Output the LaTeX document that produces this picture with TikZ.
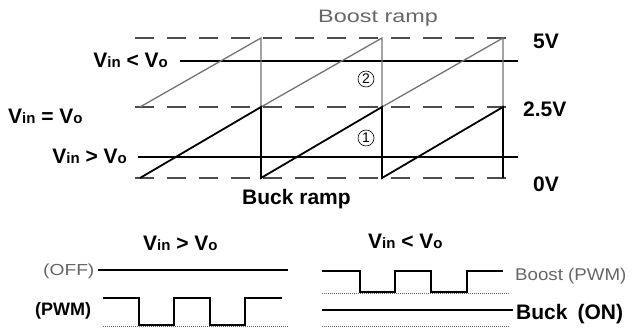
\documentclass[tikz,border=0pt]{standalone}
\usepackage{fontspec}
\setmainfont{Liberation Sans}
\newcommand\VVsub[1]{V{\fontsize{15}{15}\selectfont #1}}
\begin{document}
\begin{tikzpicture}[x=1pt,y=-1pt,
  lbl/.style={inner sep=0pt, font=\fontsize{21}{21}\selectfont\bfseries},
  glbl/.style={inner sep=0pt, text=black!60, font=\fontsize{16}{16}\selectfont},
  dashline/.style={black!70, line width=1.1pt, dash pattern=on 19pt off 13pt},
  thickline/.style={line width=1.8pt},
  grayramp/.style={black!55, line width=1.3pt},
  dotline/.style={black!60, line width=0.8pt, dash pattern=on 1.2pt off 0.8pt},
  numcirc/.style={circle, draw, line width=0.6pt, inner sep=0pt, minimum size=16pt, font=\fontsize{14}{14}\selectfont}]
\useasboundingbox (0,0) rectangle (632,329);

% reference levels
\draw[dashline] (135,38) -- (518,38);
\draw[dashline] (135,107) -- (518,107);
\draw[dashline] (135,178) -- (518,178);
\draw[thickline] (180,61) -- (518,61);
\draw[thickline] (138,157) -- (518,157);

% boost ramp (gray)
\draw[grayramp] (140,107) -- (261,38) -- (261,107) -- (382,38) -- (382,107) -- (503,38) -- (503,107);
% buck ramp (black)
\draw[thickline] (140,178) -- (261,107) -- (261,178) -- (382,107) -- (382,178) -- (503,107) -- (503,178);

\node[numcirc] (c2) at (366,79) {2};
\node[numcirc] (c1) at (366,138) {1};

% labels top
\node[glbl, anchor=base west] (boostramp) at (318,23) {\scalebox{1.3}[1]{\fontsize{18}{18}\selectfont Boost ramp}};
\node[lbl, anchor=base west] (buckramp) at (242,204) {Buck ramp};
\node[lbl, anchor=base west] (v5) at (533,49) {5V};
\node[lbl, anchor=base west] (v25) at (523,117) {2.5V};
\node[lbl, anchor=base west] (v0) at (533,191) {0V};
\node[lbl, anchor=base east] (vlt) at (168,67) {\VVsub{in} < \VVsub{o}};
\node[lbl, anchor=base west] (veq) at (8,123) {\VVsub{in} = \VVsub{o}};
\node[lbl, anchor=base east] (vgt) at (127,163) {\VVsub{in} > \VVsub{o}};

% bottom left
\node[lbl, anchor=base west] (hgt) at (143,250) {\VVsub{in} > \VVsub{o}};
\node[glbl, anchor=base west] (off) at (43,275) {\scalebox{1.2}[1]{(OFF)}};
\node[inner sep=0pt, anchor=base west, font=\fontsize{18}{18}\selectfont\bfseries] (pwm) at (35,315) {(PWM)};
\draw[line width=1.6pt] (98,270) -- (288,270);
\draw[dotline] (103,326) -- (288,326);
\draw[thickline] (103,298) -- (139,298) -- (139,325) -- (174,325) -- (174,298) -- (210,298) -- (210,325) -- (245,325) -- (245,298) -- (282,298);

% bottom right
\node[lbl, anchor=base west] (hlt) at (368,248) {\VVsub{in} < \VVsub{o}};
\draw[dotline] (322,293) -- (510,293);
\draw[thickline] (322,271) -- (360,271) -- (360,292) -- (395,292) -- (395,271) -- (431,271) -- (431,292) -- (467,292) -- (467,271) -- (503,271);
\draw[thickline] (322,310) -- (513,310);
\draw[dotline] (322,326) -- (510,326);
\node[glbl, anchor=base west] (boostpwm) at (515,280) {\scalebox{1.1}[1]{\fontsize{17}{17}\selectfont Boost (PWM)}};
\node[lbl, anchor=base west] (buckon) at (516,319) {Buck\hspace{10pt}(ON)};
\end{tikzpicture}
\end{document}
